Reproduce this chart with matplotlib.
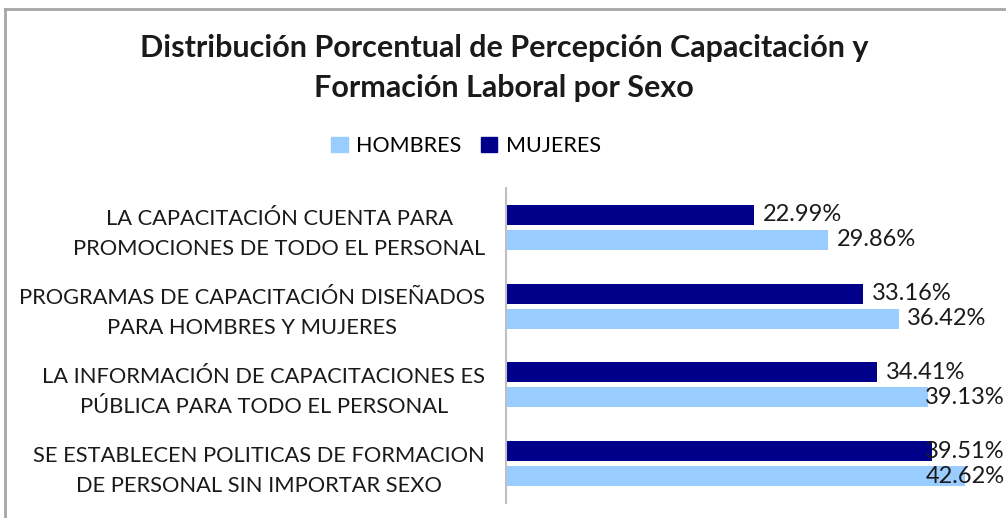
import matplotlib
matplotlib.use("Agg")
import matplotlib.pyplot as plt
from matplotlib.patches import Rectangle
from matplotlib.lines import Line2D
import numpy as np

categories = [
    "LA CAPACITACIÓN CUENTA PARA\nPROMOCIONES DE TODO EL PERSONAL",
    "PROGRAMAS DE CAPACITACIÓN DISEÑADOS\nPARA HOMBRES Y MUJERES",
    "LA INFORMACIÓN DE CAPACITACIONES ES\nPÚBLICA PARA TODO EL PERSONAL",
    "SE ESTABLECEN POLITICAS DE FORMACION\nDE PERSONAL SIN IMPORTAR SEXO",
]
hombres = [29.86, 36.42, 39.13, 42.62]
mujeres = [22.99, 33.16, 34.41, 39.51]
title = "Distribución Porcentual de Percepción Capacitación y\nFormación Laboral por Sexo"

C_H = "#99CCFF"
C_M = "#00008B"
FONT = "Lato"

fig = plt.figure(figsize=(10.06, 5.18), dpi=100)
W, H = 1006, 518

# outer chart border (gray)
fig.add_artist(Line2D([5/W, 1.0], [1-9/H, 1-9/H], transform=fig.transFigure, color="#A6A6A6", lw=2))
fig.add_artist(Line2D([5/W, 5/W], [0, 1-9/H], transform=fig.transFigure, color="#A6A6A6", lw=2))

ax = fig.add_axes([506/W, 1-503/H, (991-506)/W, (503-188)/H])
y = np.arange(len(categories))
bh = 0.254
off = 0.159
ax.barh(y - off, mujeres, height=bh, color=C_M)
ax.barh(y + off, hombres, height=bh, color=C_H)
ax.set_xlim(0, 45)
ax.set_ylim(len(categories) - 0.5, -0.5)

for i in range(len(categories)):
    for v, yy in ((mujeres[i], y[i] - off), (hombres[i], y[i] + off)):
        ax.text(min(v + 0.8, 38.9), yy, f"{v:.2f}%", va="center", ha="left",
                fontsize=17, color="#1a1a1a", family=FONT)

ax.set_yticks(y)
ax.set_yticklabels(categories, fontsize=15.75, family=FONT, color="#1a1a1a",
                   multialignment="center", linespacing=1.62)
ax.tick_params(axis="y", length=0, pad=15)
ax.set_xticks([])
for s in ("top", "right", "bottom"):
    ax.spines[s].set_visible(False)
ax.spines["left"].set_color("#BFBFBF")
ax.spines["left"].set_linewidth(1.5)

fig.text(504/W, 1-68/H, title, ha="center", va="center", fontsize=22,
         fontweight="bold", family=FONT, linespacing=1.56, color="#1a1a1a")

# legend
handles = [Rectangle((0, 0), 1, 1, color=C_H), Rectangle((0, 0), 1, 1, color=C_M)]
fig.legend(handles, ["HOMBRES", "MUJERES"], loc="center", bbox_to_anchor=(466/W, 1-146/H),
           ncol=2, frameon=False, prop={"family": FONT, "size": 15.5},
           handlelength=0.75, handleheight=0.75, handletextpad=0.4, columnspacing=0.9)

fig.savefig("out.png", dpi=100)
